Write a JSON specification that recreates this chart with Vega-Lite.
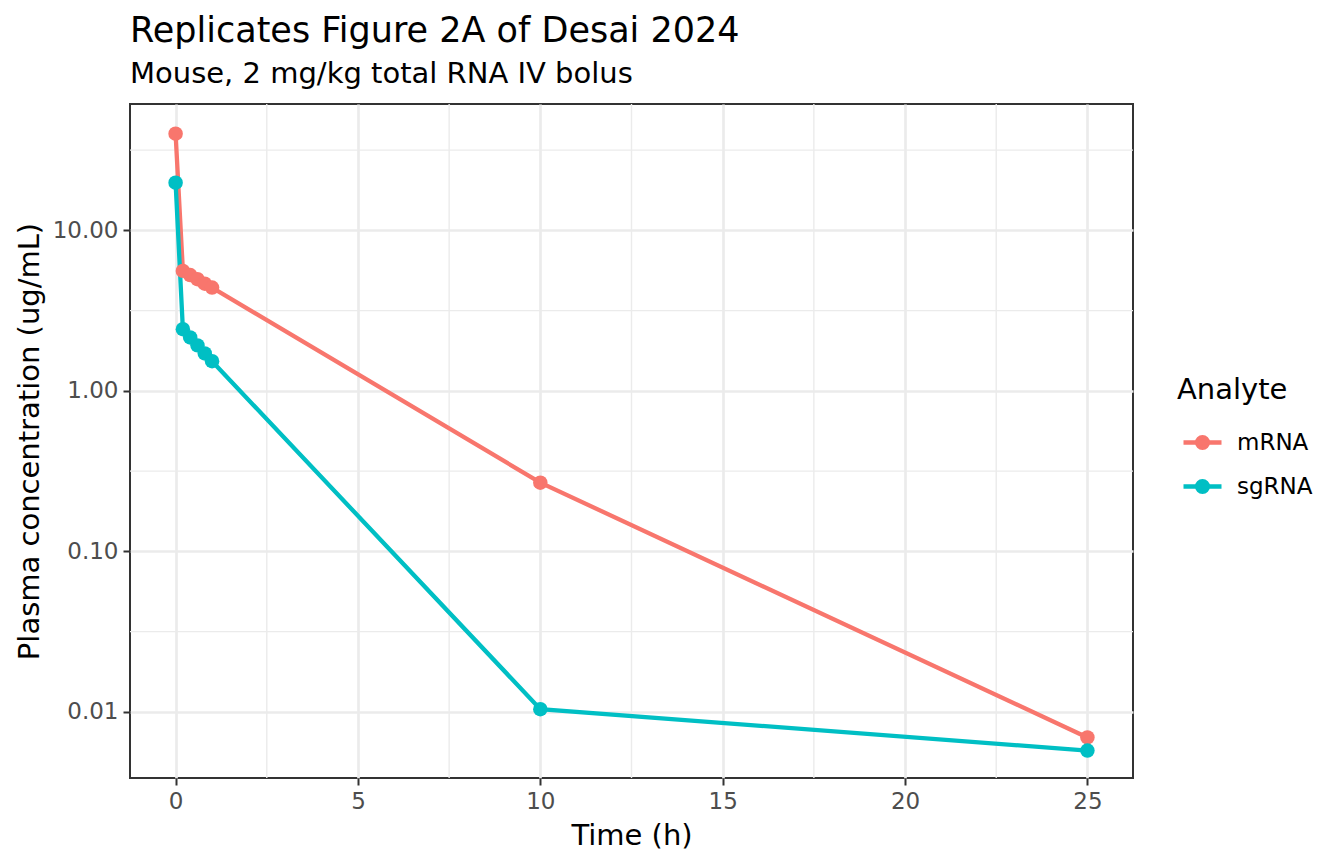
{
  "$schema": "https://vega.github.io/schema/vega-lite/v6.json",
  "width": 1003,
  "height": 674,
  "autosize": {"type": "none"},
  "padding": {"left": 130, "top": 104, "right": 211, "bottom": 86},
  "background": "white",
  "title": {
    "text": "Replicates Figure 2A of Desai 2024",
    "subtitle": "Mouse, 2 mg/kg total RNA IV bolus",
    "anchor": "start",
    "frame": "group",
    "font": "DejaVu Sans",
    "fontSize": 35,
    "fontWeight": "normal",
    "color": "black",
    "subtitleFont": "DejaVu Sans",
    "subtitleFontSize": 29,
    "subtitleColor": "black",
    "subtitlePadding": 11,
    "offset": 14
  },
  "config": {
    "view": {"stroke": "#333333", "strokeWidth": 2},
    "axis": {
      "domain": false,
      "gridColor": "#EBEBEB",
      "gridWidth": 2.7,
      "tickColor": "#333333",
      "tickWidth": 2,
      "tickSize": 7,
      "labelColor": "#4D4D4D",
      "labelFont": "DejaVu Sans",
      "labelFontSize": 23,
      "labelPadding": 5,
      "titleFont": "DejaVu Sans",
      "titleFontSize": 29,
      "titleFontWeight": "normal",
      "titleColor": "black"
    },
    "legend": {
      "orient": "none",
      "legendX": 1047,
      "legendY": 272,
      "padding": 0,
      "titleFont": "DejaVu Sans",
      "titleFontSize": 29,
      "titleFontWeight": "normal",
      "titleColor": "black",
      "titlePadding": 16,
      "labelFont": "DejaVu Sans",
      "labelFontSize": 23,
      "labelColor": "black",
      "labelOffset": 13,
      "rowPadding": 8,
      "symbolType": "M-1,0H1M-0.28,0A0.28,0.28,0,1,0,0.28,0A0.28,0.28,0,1,0,-0.28,0",
      "symbolSize": 1444,
      "symbolStrokeWidth": 4.5,
      "symbolOffset": 4
    }
  },
  "datasets": {
    "pk": [
      {"Time": 0, "Analyte": "mRNA", "Conc": 40.0},
      {"Time": 0.2, "Analyte": "mRNA", "Conc": 5.59},
      {"Time": 0.4, "Analyte": "mRNA", "Conc": 5.26},
      {"Time": 0.6, "Analyte": "mRNA", "Conc": 4.96},
      {"Time": 0.8, "Analyte": "mRNA", "Conc": 4.65},
      {"Time": 1.0, "Analyte": "mRNA", "Conc": 4.40},
      {"Time": 10, "Analyte": "mRNA", "Conc": 0.268},
      {"Time": 25, "Analyte": "mRNA", "Conc": 0.00693},
      {"Time": 0, "Analyte": "sgRNA", "Conc": 19.8},
      {"Time": 0.2, "Analyte": "sgRNA", "Conc": 2.42},
      {"Time": 0.4, "Analyte": "sgRNA", "Conc": 2.15},
      {"Time": 0.6, "Analyte": "sgRNA", "Conc": 1.92},
      {"Time": 0.8, "Analyte": "sgRNA", "Conc": 1.71},
      {"Time": 1.0, "Analyte": "sgRNA", "Conc": 1.53},
      {"Time": 10, "Analyte": "sgRNA", "Conc": 0.0104},
      {"Time": 25, "Analyte": "sgRNA", "Conc": 0.00574}
    ],
    "minorx": [
      {"Time": 2.5}, {"Time": 7.5}, {"Time": 12.5}, {"Time": 17.5}, {"Time": 22.5}
    ],
    "minory": [
      {"Conc": 0.0316}, {"Conc": 0.316}, {"Conc": 3.16}, {"Conc": 31.6}
    ]
  },
  "layer": [
    {
      "data": {"name": "minorx"},
      "mark": {"type": "rule", "color": "#EBEBEB", "strokeWidth": 1.4},
      "encoding": {
        "x": {"field": "Time", "type": "quantitative", "title": "Time (h)",
              "scale": {"domain": [-1.25, 26.25], "nice": false, "zero": false}}
      }
    },
    {
      "data": {"name": "minory"},
      "mark": {"type": "rule", "color": "#EBEBEB", "strokeWidth": 1.4},
      "encoding": {
        "y": {"field": "Conc", "type": "quantitative", "title": "Plasma concentration (ug/mL)",
              "scale": {"type": "log", "domain": [0.003873, 61.24], "nice": false}}
      }
    },
    {
      "data": {"name": "pk"},
      "mark": {"type": "line", "strokeWidth": 4.3, "point": {"filled": true, "size": 210, "opacity": 1}},
      "encoding": {
        "x": {
          "field": "Time", "type": "quantitative", "title": "Time (h)",
          "scale": {"domain": [-1.25, 26.25], "nice": false, "zero": false},
          "axis": {"values": [0, 5, 10, 15, 20, 25], "format": "d", "titlePadding": 8}
        },
        "y": {
          "field": "Conc", "type": "quantitative", "title": "Plasma concentration (ug/mL)",
          "scale": {"type": "log", "domain": [0.003873, 61.24], "nice": false},
          "axis": {"values": [0.01, 0.1, 1, 10], "format": ".2f", "titlePadding": 8}
        },
        "color": {
          "field": "Analyte", "type": "nominal",
          "scale": {"domain": ["mRNA", "sgRNA"], "range": ["#F8766D", "#00BFC4"]},
          "legend": {
            "title": "Analyte",
            "encode": {
              "symbols": {
                "update": {
                  "fill": {"scale": "color", "field": "value"},
                  "stroke": {"scale": "color", "field": "value"},
                  "fillOpacity": {"value": 1},
                  "opacity": {"value": 1}
                }
              }
            }
          }
        }
      }
    }
  ]
}
